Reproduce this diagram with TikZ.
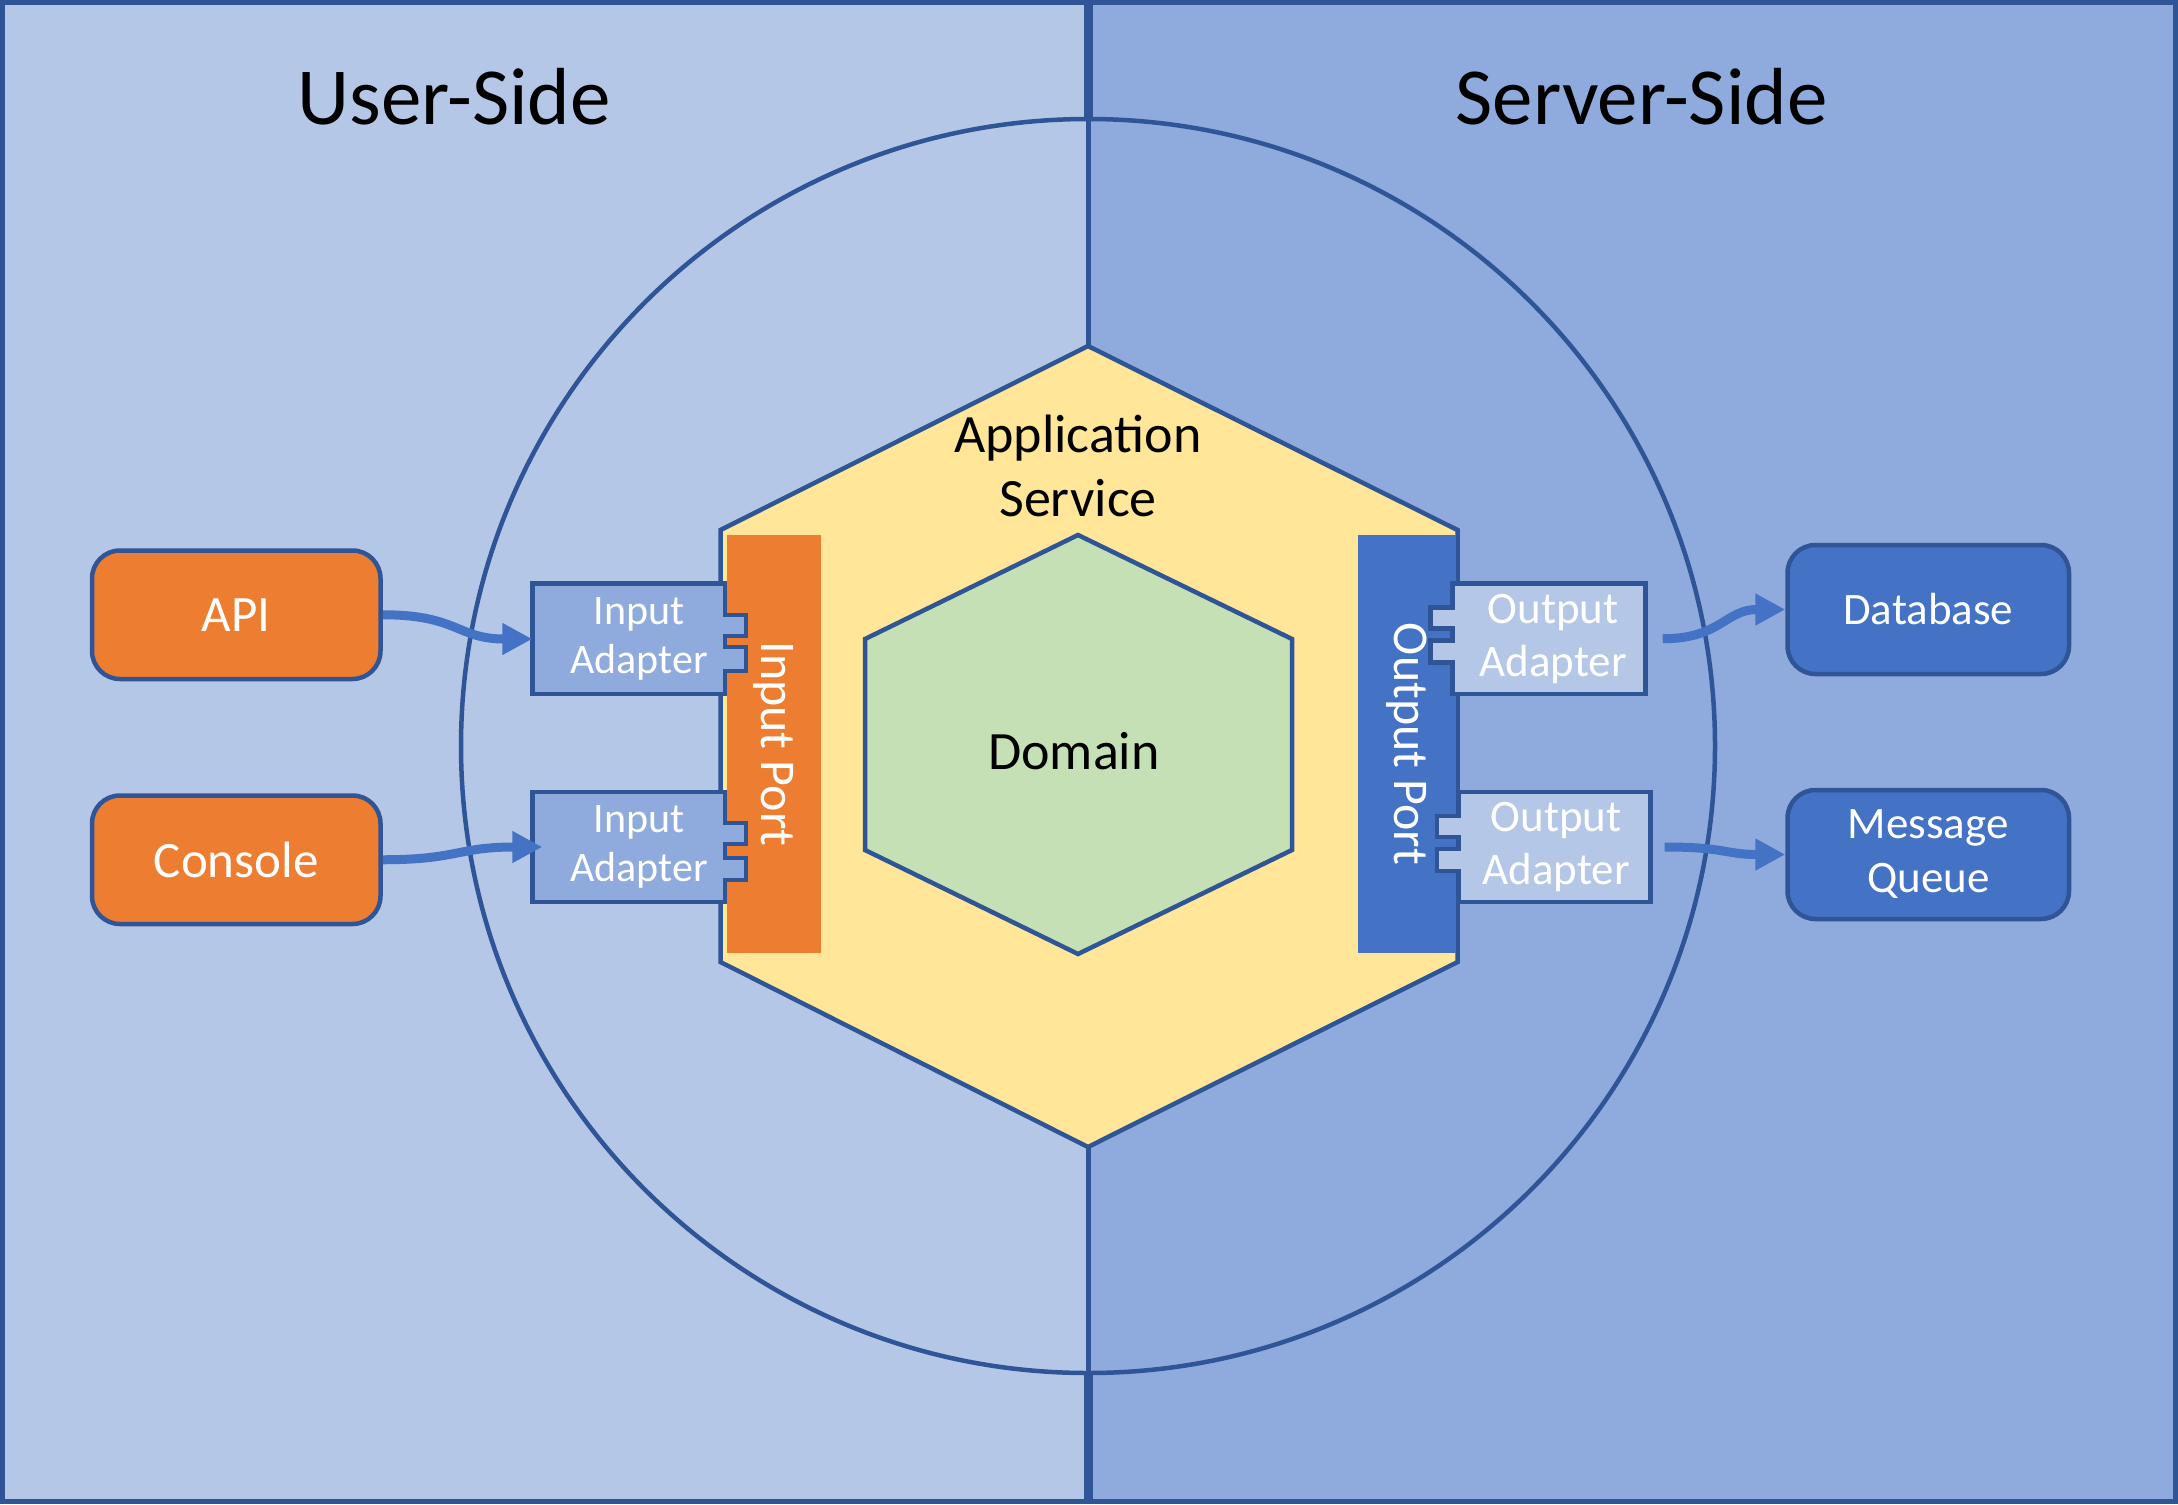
\documentclass[tikz,border=0pt]{standalone}
\usepackage{fontspec}
\setmainfont{Carlito}
\usetikzlibrary{arrows.meta}

\definecolor{userbg}{RGB}{180,199,231}
\definecolor{serverbg}{RGB}{143,170,220}
\definecolor{edgeblue}{RGB}{47,85,151}
\definecolor{appyellow}{RGB}{255,230,153}
\definecolor{domaingreen}{RGB}{197,224,180}
\definecolor{portorange}{RGB}{237,125,49}
\definecolor{portblue}{RGB}{68,114,196}

\tikzset{
  outerbox/.style={draw=edgeblue, line width=4.5, rounded corners=28, minimum width=288.5, minimum height=128.5, inner sep=0, text=white, align=center},
  adapteredge/.style={draw=edgeblue, line width=4.5},
  adapterlabel/.style={inner sep=0, minimum height=110.5, text=white, align=center},
  portbar/.style={inner sep=0, rotate=-90, minimum width=418, text=white, font=\fontsize{50}{60}\selectfont},
  flow/.style={draw=portblue, line width=9, -{Triangle[length=30pt,width=30pt]}},
}

\begin{document}
\begin{tikzpicture}[x=1pt,y=1pt,yscale=-1,xscale=1]
\useasboundingbox (0,0) rectangle (2178,1504);

%Panels
\fill[userbg] (0,0) rectangle (1088,1504);
\fill[serverbg] (1088,0) rectangle (2178,1504);
\draw[edgeblue, line width=5] (2.5,2.5) rectangle (2175.5,1501.5);
\draw[edgeblue, line width=9] (1088,0) -- (1088,1504);

%Circle
\fill[userbg] (1088,746) circle[radius=627];
\begin{scope}
  \clip (1088,0) rectangle (2178,1504);
  \fill[serverbg] (1088,746) circle[radius=627];
\end{scope}
\draw[edgeblue, line width=4.5] (1088,746) circle[radius=627];
\draw[edgeblue, line width=5] (1088,119) -- (1088,1373);

%Shape: Hexagon (application service)
\draw[edgeblue, fill=appyellow, line width=4.5] (1088,346) -- (1457.5,530) -- (1457.5,962) -- (1088,1147) -- (720.5,962) -- (720.5,530) -- cycle;
%Shape: Hexagon (domain)
\draw[edgeblue, fill=domaingreen, line width=4.5] (1078,535) -- (1292,639) -- (1292,850) -- (1078,954) -- (865,850) -- (865,639) -- cycle;

%Ports
\node[portbar, fill=portorange, minimum height=94] (inPort) at (774,744) {Input Port};
\node[portbar, fill=portblue, minimum height=97.5] (outPort) at (1406.75,744) {Output Port};

%Input adapters
\draw[adapteredge, fill=serverbg] (532.5,583.5) -- (725,583.5) -- (725,615) -- (746,615) -- (746,636) -- (725,636) -- (725,647) -- (746,647) -- (746,671) -- (725,671) -- (725,694) -- (532.5,694) -- cycle;
\draw[adapteredge, fill=serverbg] (532.5,792) -- (725,792) -- (725,823) -- (746,823) -- (746,844) -- (725,844) -- (725,858) -- (746,858) -- (746,880) -- (725,880) -- (725,902) -- (532.5,902) -- cycle;
% Text Node
\node[adapterlabel, minimum width=213, font=\fontsize{42}{49}\selectfont] (inAdA) at (639,639) {Input\\Adapter};
% Text Node
\node[adapterlabel, minimum width=213, font=\fontsize{42}{49}\selectfont] (inAdB) at (639,847) {Input\\Adapter};

%Output adapters
\draw[adapteredge, fill=userbg] (1452.5,583.5) -- (1645.5,583.5) -- (1645.5,694) -- (1452.5,694) -- (1452.5,662.5) -- (1430.5,662.5) -- (1430.5,640.5) -- (1452.5,640.5) -- (1452.5,628.5) -- (1430.5,628.5) -- (1430.5,607.5) -- (1452.5,607.5) -- cycle;
\draw[adapteredge, fill=userbg] (1459,792) -- (1650.5,792) -- (1650.5,902) -- (1459,902) -- (1459,871) -- (1437,871) -- (1437,849) -- (1459,849) -- (1459,837) -- (1437,837) -- (1437,816) -- (1459,816) -- cycle;
% Text Node
\node[adapterlabel, minimum width=185, font=\fontsize{45}{53}\selectfont] (outAdA) at (1553,638.75) {Output\\Adapter};
% Text Node
\node[adapterlabel, minimum width=189, font=\fontsize{45}{53}\selectfont] (outAdB) at (1556,847) {Output\\Adapter};

%Outside boxes
\node[outerbox, fill=portorange, font=\fontsize{51}{61}\selectfont] (api) at (236.25,614.75) {API};
\node[outerbox, fill=portorange, font=\fontsize{51}{61}\selectfont] (console) at (236.25,859.75) {Console};
\node[outerbox, fill=portblue, minimum width=281.5, minimum height=129, font=\fontsize{45}{54}\selectfont] (database) at (1928.25,609.5) {Database};
\node[outerbox, fill=portblue, minimum width=281.5, minimum height=129, font=\fontsize{45}{54}\selectfont] (queue) at (1928.25,854.5) {Message\\Queue};

%Arrows
\draw[flow] (api.east) .. controls +(75,0) and +(-75,0) .. (inAdA.west);
\draw[flow, shorten >=-10pt] (console.east) .. controls +(75,0) and +(-75,0) .. (inAdB.west);
\draw[flow, shorten <=17pt] (outAdA.east) .. controls +(75,0) and +(-60,0) .. (database.west);
\draw[flow, shorten <=14pt] (outAdB.east) .. controls +(75,0) and +(-60,0) .. (queue.west);

% Text Node
\node[font=\fontsize{81}{97}\selectfont] (userTitle) at (454,97) {User-Side};
% Text Node
\node[font=\fontsize{81}{97}\selectfont] (serverTitle) at (1641.5,97) {Server-Side};
% Text Node
\node[align=center, font=\fontsize{54}{64}\selectfont] (appLabel) at (1078,466) {Application\\Service};
% Text Node
\node[font=\fontsize{54}{64}\selectfont] (domainLabel) at (1074,751) {Domain};

\end{tikzpicture}
\end{document}
